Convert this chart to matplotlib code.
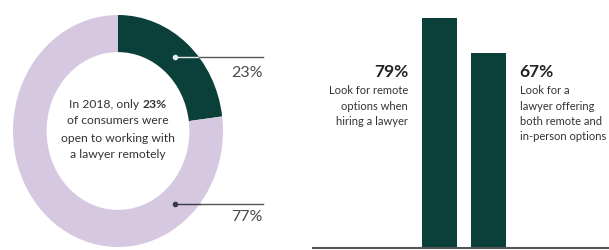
import matplotlib
matplotlib.use("Agg")
import matplotlib.pyplot as plt

# data
shares = [23, 77]
share_labels = ["23%", "77%"]
center_lead = "In 2018, only "
center_bold = "23%"
center_rest = ["of consumers were", "open to working with", "a lawyer remotely"]
bar_values = [79, 67]
bar_pcts = ["79%", "67%"]
bar_notes = [
    "Look for remote\noptions when\nhiring a lawyer",
    "Look for a\nlawyer offering\nboth remote and\nin-person options",
]

DARK = "#0a3f3a"
LILAC = "#d5c8e0"
TEXT = "#333333"
GREY = "#555555"

plt.rcParams["font.family"] = ["Lato", "DejaVu Sans"]

W, H = 609, 251
fig = plt.figure(figsize=(W / 100, H / 100), dpi=100)


def px_axes(x0, y0, x1, y1):
    # axes placed by pixel box (top-left origin)
    return fig.add_axes([x0 / W, 1 - y1 / H, (x1 - x0) / W, (y1 - y0) / H])


# ---- donut ----
ax = px_axes(13, 16, 223, 248)
ax.pie(shares, colors=[DARK, LILAC], startangle=90, counterclock=False,
       radius=1, wedgeprops=dict(width=0.32, linewidth=0))
ax.set_aspect("auto")
ax.set_xlim(-1, 1)
ax.set_ylim(-1, 1)
ax.axis("off")

# leader lines + labels
dot_x = 0.54
line_end = 1.38
for lab, dot_y, lab_y, inner_col in [
    (share_labels[0], 0.64, 0.51, "#e8e8e8"),
    (share_labels[1], -0.63, -0.73, "#3a3a4a"),
]:
    edge_x = (1 - dot_y ** 2) ** 0.5
    ax.plot([dot_x, edge_x], [dot_y, dot_y], color=inner_col, lw=1, clip_on=False)
    ax.plot([edge_x, line_end], [dot_y, dot_y], color=GREY, lw=1, clip_on=False)
    ax.plot([dot_x], [dot_y], "o", ms=3, color=inner_col, clip_on=False)
    ax.text(line_end, lab_y, lab, ha="right", va="center", fontsize=11.5,
            color="#4a4a4a", clip_on=False)

# centre text
line_ys = [(132 - y) / 116 for y in (104, 121, 138, 155)]
t1 = ax.text(0, line_ys[0], center_lead, ha="left", va="center",
             fontsize=8.7, color=TEXT)
t2 = ax.text(0, line_ys[0], center_bold, ha="left", va="center",
             fontsize=8.7, fontweight="bold", color=TEXT)
for txt, y in zip(center_rest, line_ys[1:]):
    ax.text(0, y, txt, ha="center", va="center", fontsize=8.7, color=TEXT)

fig.canvas.draw()
r = fig.canvas.get_renderer()
w1 = t1.get_window_extent(r).width
w2 = t2.get_window_extent(r).width
cx, cy = ax.transData.transform((0, line_ys[0]))
x_start = ax.transData.inverted().transform((cx - (w1 + w2) / 2, cy))[0]
x_bold = ax.transData.inverted().transform((cx - (w1 + w2) / 2 + w1, cy))[0]
t1.set_x(x_start)
t2.set_x(x_bold)

# ---- bars ----
bx = px_axes(313, 0, 609, 249)
positions = [0, 1]
bx.bar(positions, bar_values, width=0.72, color=DARK)
bx.set_xlim(-2.61, 3.49)
bx.set_ylim(0, 85.5)
for s in ("top", "right", "left"):
    bx.spines[s].set_visible(False)
bx.spines["bottom"].set_color(GREY)
bx.spines["bottom"].set_linewidth(1.5)
bx.set_xticks([])
bx.set_yticks([])
bx.patch.set_alpha(0)

# annotations beside the bars
pct_y = 60.8
note_y = 56.2
edges = [positions[0] - 0.36, positions[1] + 0.36]
for edge, pct, note, side in zip(edges, bar_pcts, bar_notes, [-1, 1]):
    ha = "right" if side < 0 else "left"
    bx.annotate(pct, xy=(edge, pct_y), xytext=(14 * side, 0),
                textcoords="offset pixels", ha=ha, va="center",
                fontsize=12.5, fontweight="bold", color="#222222")
    bx.annotate(note, xy=(edge, note_y), xytext=(14 * side, 0),
                textcoords="offset pixels", ha=ha, va="top",
                fontsize=8, color=TEXT, linespacing=1.48,
                multialignment=ha)

fig.savefig("out.png", dpi=100, facecolor="white")
